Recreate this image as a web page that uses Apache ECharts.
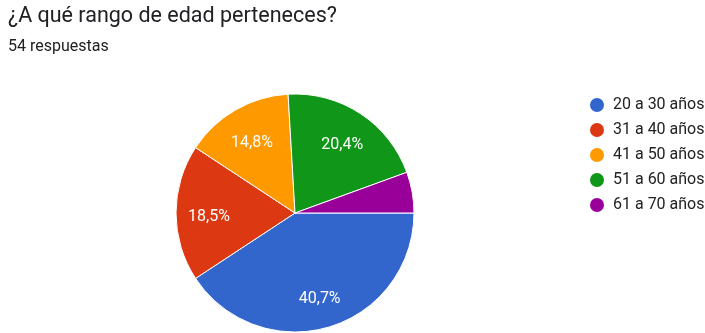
<!DOCTYPE html>
<html><head><meta charset="utf-8">
<script src="https://cdn.jsdelivr.net/npm/echarts@6/dist/echarts.min.js"></script>
<style>html,body{margin:0;padding:0;background:#fff}#c{width:705px;height:333px}</style>
</head><body><div id="c"></div>
<script>
const categories = ['20 a 30 años','31 a 40 años','41 a 50 años','51 a 60 años','61 a 70 años'];
const counts = [22, 10, 8, 11, 3];
const colors = ['#3366cc','#dc3912','#ff9900','#109618','#990099'];
const titleText = '¿A qué rango de edad perteneces?';
const subText = '54 respuestas';

const total = counts.reduce((a,b)=>a+b,0);
const data = categories.map((n,i)=>({name:n, value:counts[i], itemStyle:{color:colors[i]}}));
const chart = echarts.init(document.getElementById('c'));
chart.setOption({
  animation:false,
  title:{text:titleText, subtext:subText, left:3, top:1, itemGap:11,
    textStyle:{fontFamily:'Roboto', fontSize:21.5, fontWeight:'normal', color:'#202124'},
    subtextStyle:{fontFamily:'Roboto', fontSize:16, color:'#202124'}},
  legend:{orient:'vertical', left:583, top:91, icon:'circle', itemWidth:16, itemHeight:16, itemGap:7,
    data:categories,
    textStyle:{fontFamily:'Roboto', fontSize:16, lineHeight:16, color:'#222', padding:[0,0,0,3]}},
  series:[{
    type:'pie', center:[295,213], radius:[0,119], startAngle:0, clockwise:true,
    data:data,
    itemStyle:{borderColor:'#fff', borderWidth:1},
    label:{show:false}, labelLine:{show:false}, emphasis:{disabled:true}
  },{
    type:'pie', center:[295,213], radius:[47,119], startAngle:0, clockwise:true,
    data:categories.map((n,i)=>({name:n, value:counts[i]})),
    itemStyle:{color:'rgba(0,0,0,0)'},
    silent:true,
    label:{show:true, position:'inside', color:'#fff', fontFamily:'Roboto', fontSize:16, offset:[0,4],
      formatter:p=>{const v=p.value/total*100; return v<10?'':v.toFixed(1).replace('.',',')+'%';}},
    labelLine:{show:false}, emphasis:{disabled:true}
  }]
});
</script></body></html>
